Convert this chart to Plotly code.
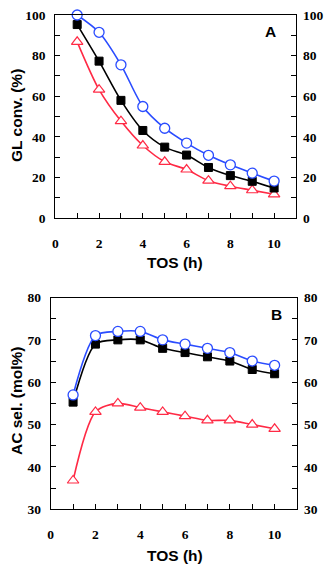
import plotly.graph_objects as go

tos = [1, 2, 3, 4, 5, 6, 7, 8, 9, 10]

# panel A: GL conversion (%)
conv_blue = [100, 91.5, 75.5, 55, 44.3, 37, 31, 26.3, 22.2, 18.3]
conv_black = [95.3, 77.3, 58, 43.2, 35, 31.1, 25, 21, 18.2, 14.9]
conv_red = [86.8, 63.3, 47.8, 35.8, 27.8, 24, 18.5, 15.8, 13.8, 11.8]

# panel B: AC selectivity (mol%)
sel_blue = [57, 71, 72, 72, 70, 69, 68, 67, 65, 64]
sel_black = [55.3, 69, 70, 70, 68, 67, 66, 65, 63, 62]
sel_red = [36.8, 53, 55, 54, 53, 52, 51, 51, 50, 49]

BLUE = '#2a4cff'
RED = '#ff2a45'
TICKFONT = dict(family='Liberation Serif', size=13.5, color='black', weight='bold')
TITLEFONT = dict(family='Liberation Sans', size=15.5, color='black', weight='bold')

W, H = 333, 566
OFF = 8  # the page draws the figure 8px in from the top-left corner


def px(x):
    return (x - OFF) / W


def py(y):
    return 1 - (y - OFF) / H


series = [
    ('red', RED, 'triangle-up', 'white', 10, 1.2),
    ('black', 'black', 'square', 'black', 8, 1),
    ('blue', BLUE, 'circle', 'white', 10, 1.3),
]

fig = go.Figure()


def add_panel(fig, xa, ya, values):
    for (name, col, sym, fill, size, lw), ys in zip(series, values):
        fig.add_trace(go.Scatter(
            x=tos, y=ys, xaxis=xa, yaxis=ya,
            mode='lines+markers',
            line=dict(color=col, width=1.6, shape='spline', smoothing=0.8),
            marker=dict(symbol=sym, size=size, color=fill, line=dict(color=col, width=lw)),
            showlegend=False, hoverinfo='skip', cliponaxis=False
        ))


add_panel(fig, 'x', 'y', [conv_red, conv_black, conv_blue])
add_panel(fig, 'x2', 'y2', [sel_red, sel_black, sel_blue])

# invisible traces so the right-hand axes get drawn
fig.add_trace(go.Scatter(x=tos, y=conv_blue, xaxis='x', yaxis='y3', mode='markers',
                         marker=dict(opacity=0), showlegend=False, hoverinfo='skip'))
fig.add_trace(go.Scatter(x=tos, y=sel_blue, xaxis='x2', yaxis='y4', mode='markers',
                         marker=dict(opacity=0), showlegend=False, hoverinfo='skip'))

xcommon = dict(range=[0, 11], dtick=2, tick0=0, ticks='inside', ticklen=5, tickwidth=1,
               minor=dict(dtick=1, ticks='inside', ticklen=5, tickwidth=1, tickcolor='black'),
               showline=True, linecolor='black', linewidth=1, mirror=True, automargin=False,
               showgrid=False, zeroline=False, tickfont=TICKFONT, ticklabelstandoff=12,
               tickcolor='black', ticklabeloverflow='allow')


def ycommon(rng, dt, side='left'):
    return dict(range=rng, dtick=dt, ticks='inside', ticklen=5, tickwidth=1, tickcolor='black',
                minor=dict(dtick=dt / 2, ticks='inside', ticklen=5, tickwidth=1, tickcolor='black'),
                showgrid=False, zeroline=False, tickfont=TICKFONT, side=side, automargin=False,
                ticklabelstandoff=6, ticklabeloverflow='allow')


fig.update_layout(
    width=W, height=H,
    margin=dict(l=0, r=0, t=0, b=0, autoexpand=False),
    paper_bgcolor='white', plot_bgcolor='white',
    xaxis=dict(domain=[px(55.3), px(296)], anchor='y', **xcommon),
    xaxis2=dict(domain=[px(50.7), px(297)], anchor='y2', **xcommon),
    yaxis=dict(domain=[py(218.3), py(15)], anchor='x', showline=True, linecolor='black',
               linewidth=1, mirror=True, **ycommon([0, 100], 20)),
    yaxis3=dict(overlaying='y', anchor='x', **ycommon([0, 100], 20, 'right')),
    yaxis2=dict(domain=[py(509.3), py(297.5)], anchor='x2', showline=True, linecolor='black',
                linewidth=1, mirror=True, **ycommon([30, 80], 10)),
    yaxis4=dict(overlaying='y2', anchor='x2', **ycommon([30, 80], 10, 'right')),
)

# text positions in window pixels from the top-left corner
labels = [
    ('GL conv. (%)', 16, 116, -90),
    ('AC sel. (mol%)', 16, 401, -90),
    ('TOS (h)', 175, 262, 0),
    ('TOS (h)', 175, 555, 0),
    ('A', 270, 32, 0),
    ('B', 276, 314, 0),
]
for text, x, y, ang in labels:
    fig.add_annotation(text=text, textangle=ang, x=px(x), y=py(y),
                       xref='paper', yref='paper', xanchor='center', yanchor='middle',
                       showarrow=False, font=TITLEFONT)

fig.write_html("out.html")
